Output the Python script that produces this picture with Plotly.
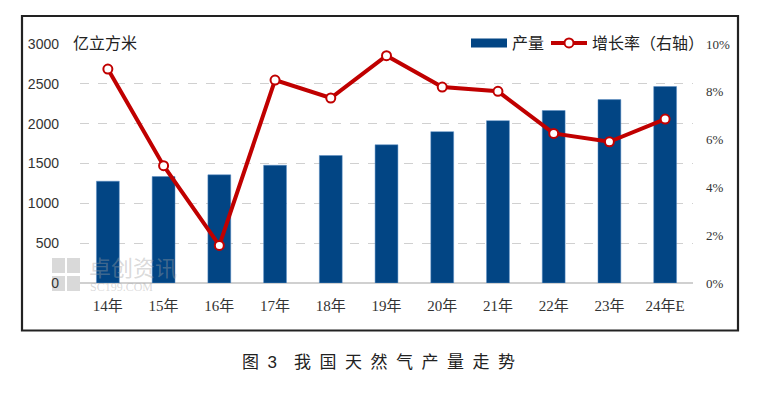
import plotly.graph_objects as go

categories = ["14年", "15年", "16年", "17年", "18年", "19年", "20年", "21年", "22年", "23年", "24年E"]
production = [1278, 1336, 1358, 1478, 1600, 1735, 1900, 2038, 2165, 2302, 2466]
growth = [8.95, 4.91, 1.57, 8.49, 7.74, 9.51, 8.20, 8.02, 6.26, 5.91, 6.86]
left_ticks = [0, 500, 1000, 1500, 2000, 2500, 3000]
right_ticks = [0, 2, 4, 6, 8, 10]
right_tick_labels = ["0%", "2%", "4%", "6%", "8%", "10%"]

# page body has an 8px default margin: figure coords = screen coords - 8
OFF = 8
SW, SH = 767, 399
W, H = SW - OFF, SH - OFF
L, R, T, B = 80, 693, 44, 283          # plot area in screen coords
pw, ph = R - L, B - T

def px(x):
    return (x - L) / pw

def py(y):
    return (B - y) / ph

sans = "Liberation Sans, Noto Sans CJK SC, sans-serif"
serif = "Liberation Serif, Noto Sans CJK SC, serif"
BLUE = "#024584"
RED = "#c00000"

fig = go.Figure()
fig.add_trace(go.Bar(
    x=categories, y=production, name="产量", showlegend=False,
    marker=dict(color=BLUE, line=dict(color="#5b8fc7", width=0.5)),
    width=0.41, yaxis="y",
))
# legend entry for bars (wide swatch like the reference)
fig.add_trace(go.Scatter(
    x=[None], y=[None], name="产量", mode="lines",
    line=dict(color=BLUE, width=9), yaxis="y", legend="legend",
))
fig.add_trace(go.Scatter(
    x=categories, y=growth, name="增长率（右轴）", yaxis="y2", legend="legend2",
    mode="lines+markers",
    line=dict(color=RED, width=4),
    marker=dict(symbol="circle", size=9, color="white", line=dict(color=RED, width=2)),
))

legend_common = dict(orientation="h", xanchor="left", y=py(43), yanchor="middle",
                     font=dict(family=sans, size=16, color="#222"), bgcolor="rgba(0,0,0,0)",
                     itemwidth=36, tracegroupgap=0, itemsizing="trace")

fig.update_layout(
    width=W, height=H,
    margin=dict(l=L - OFF, r=SW - R, t=T - OFF, b=SH - B, autoexpand=False),
    paper_bgcolor="white", plot_bgcolor="white",
    showlegend=True,
    legend=dict(x=px(466), **legend_common),
    legend2=dict(x=px(546), **legend_common),
    bargap=0.59,
    xaxis=dict(type="category", range=[-0.5, len(categories) - 0.5], autorange=False,
               showgrid=False, showline=False, ticks="",
               tickfont=dict(family=serif, size=15, color="#333"), ticklabelstandoff=12),
    yaxis=dict(range=[0, 3000], tickvals=left_ticks, showgrid=True,
               griddash="dash", gridcolor="#d0d0d0", gridwidth=1,
               zeroline=True, zerolinecolor="#d0d0d0", zerolinewidth=1.5,
               tickfont=dict(family=sans, size=14, color="#333"), ticklabelstandoff=20),
    yaxis2=dict(range=[0, 10], tickvals=right_ticks, ticktext=right_tick_labels,
                overlaying="y", side="right", showgrid=False, zeroline=False,
                tickfont=dict(family=serif, size=13, color="#333"), ticklabelstandoff=12),
)

# outer frame
fig.add_shape(type="rect", xref="paper", yref="paper",
              x0=px(22), x1=px(738), y0=py(330.5), y1=py(16),
              line=dict(color="#222", width=2.2), fillcolor="rgba(0,0,0,0)", layer="above")

# unit label
fig.add_annotation(text="亿立方米", xref="paper", yref="paper", x=px(71), y=py(43),
                   xanchor="left", yanchor="middle", showarrow=False,
                   font=dict(family=sans, size=16, color="#222"))

# watermark logo (decorative squares)
wm = "rgba(160,160,160,0.4)"
for (x0, y0) in [(52, 258), (67, 258), (52, 276), (67, 276)]:
    fig.add_shape(type="rect", xref="paper", yref="paper", layer="below",
                  x0=px(x0), x1=px(x0 + 13), y0=py(y0 + 15), y1=py(y0),
                  line=dict(width=0), fillcolor=wm)
fig.add_annotation(text="卓创资讯", xref="paper", yref="paper", x=px(87), y=py(268),
                   xanchor="left", yanchor="middle", showarrow=False,
                   font=dict(family=sans, size=22, color=wm))
fig.add_annotation(text="SC199.COM", xref="paper", yref="paper", x=px(88), y=py(287),
                   xanchor="left", yanchor="middle", showarrow=False,
                   font=dict(family=serif, size=12, color=wm))

# caption
cap = "\u2002".join(list("图3")) + "\u2002\u2002" + "\u2002".join(list("我国天然气产量走势"))
fig.add_annotation(text=cap, xref="paper", yref="paper", x=px(378), y=py(362),
                   xanchor="center", yanchor="middle", showarrow=False,
                   font=dict(family=sans, size=17, color="#222"))

fig.write_html("out.html")
